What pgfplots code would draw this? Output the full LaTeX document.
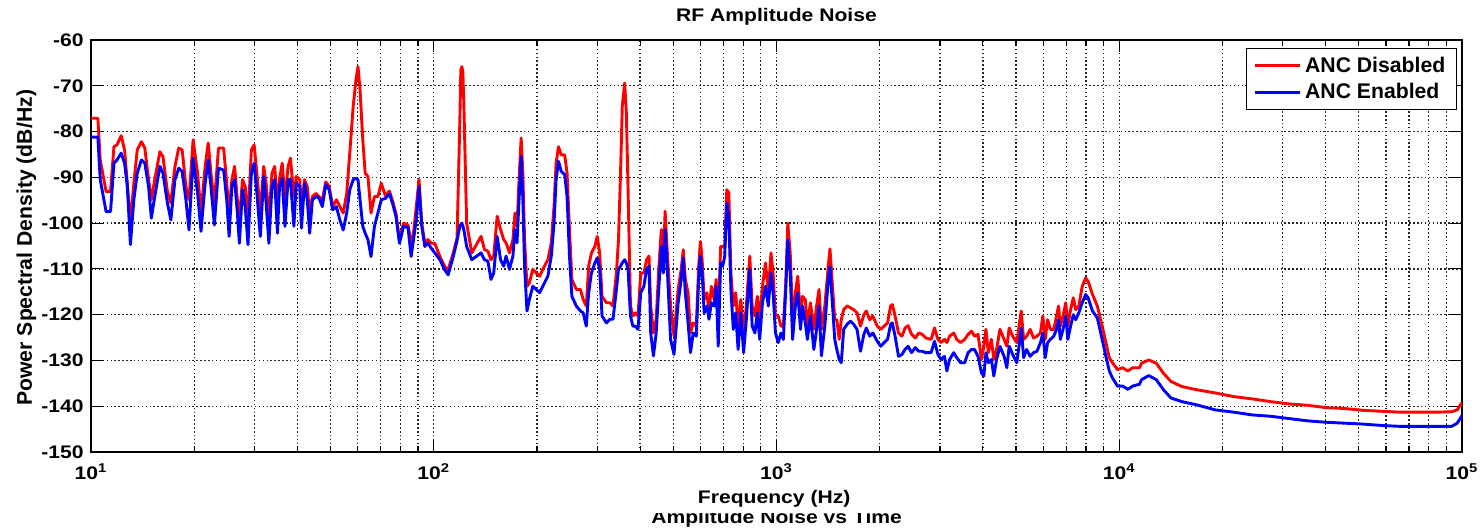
\documentclass[border=0pt]{standalone}
\usepackage{fontspec}
\setmainfont{Liberation Sans}[FakeStretch=1.16]
\newfontfamily\legfont{Liberation Sans}
\usepackage{pgfplots}
\pgfplotsset{compat=1.18}
\usepackage{pgfplotstable}

% columns: lf = log10(frequency in Hz), r = ANC Disabled (dB/Hz), b = ANC Enabled (dB/Hz)
\pgfplotstableread{
lf r b
1.000 -77.1 -81.2
1.020 -77.1 -81.2
1.027 -86.2 -90.5
1.044 -93.1 -97.5
1.057 -93.1 -97.5
1.067 -83.3 -86.9
1.076 -82.9 -86.2
1.088 -80.9 -84.7
1.098 -84.0 -86.9
1.106 -91.3 -92.0
1.115 -100.0 -104.7
1.125 -91.3 -94.9
1.135 -84.0 -89.1
1.147 -82.2 -86.2
1.157 -83.6 -86.9
1.168 -90.5 -92.0
1.176 -94.9 -98.9
1.186 -90.5 -94.2
1.201 -84.4 -87.6
1.210 -85.5 -89.1
1.223 -93.1 -95.6
1.233 -95.6 -99.3
1.245 -87.6 -90.5
1.256 -83.6 -88.0
1.266 -84.0 -88.7
1.277 -92.0 -94.9
1.286 -94.9 -101.5
1.298 -81.8 -85.8
1.311 -89.1 -93.5
1.321 -97.8 -101.8
1.333 -87.6 -91.3
1.342 -82.5 -86.2
1.350 -89.1 -92.0
1.360 -95.6 -100.4
1.372 -83.6 -88.0
1.387 -83.6 -88.4
1.396 -91.3 -94.9
1.403 -97.8 -102.9
1.411 -90.5 -92.0
1.419 -87.6 -90.5
1.427 -94.9 -97.8
1.433 -99.3 -104.4
1.442 -90.5 -92.7
1.450 -92.0 -96.4
1.458 -99.3 -104.7
1.468 -84.0 -89.1
1.476 -82.9 -86.9
1.484 -89.1 -93.5
1.494 -97.8 -102.9
1.504 -87.6 -89.8
1.511 -91.3 -95.6
1.519 -99.3 -104.4
1.528 -89.1 -92.0
1.536 -87.6 -90.5
1.544 -96.4 -102.2
1.550 -90.5 -92.0
1.558 -86.9 -90.2
1.566 -94.9 -100.7
1.575 -87.6 -90.5
1.582 -85.8 -90.5
1.592 -94.2 -100.7
1.599 -89.8 -91.3
1.609 -90.5 -92.0
1.614 -96.4 -101.1
1.623 -90.5 -91.3
1.631 -92.0 -94.9
1.638 -97.8 -102.2
1.646 -94.2 -94.9
1.656 -93.5 -94.2
1.665 -94.2 -94.5
1.675 -94.9 -96.4
1.685 -91.0 -91.6
1.695 -92.0 -92.7
1.705 -96.4 -97.1
1.716 -94.9 -96.4
1.726 -96.4 -99.3
1.736 -97.8 -101.5
1.746 -93.5 -97.8
1.755 -84.7 -92.7
1.765 -74.5 -90.5
1.773 -68.7 -90.2
1.779 -65.8 -90.5
1.785 -70.9 -94.9
1.793 -81.8 -100.7
1.800 -89.1 -102.2
1.808 -89.8 -103.6
1.817 -97.8 -107.3
1.827 -94.2 -100.7
1.837 -94.2 -97.8
1.847 -91.3 -94.9
1.859 -94.0 -94.6
1.871 -93.0 -93.6
1.881 -95.4 -96.0
1.890 -98.0 -98.6
1.900 -103.6 -104.4
1.912 -100.0 -100.7
1.925 -100.4 -101.0
1.934 -104.4 -107.3
1.941 -102.2 -103.6
1.949 -96.4 -99.3
1.957 -90.5 -92.0
1.965 -100.0 -100.7
1.974 -104.4 -105.1
1.983 -103.6 -104.4
1.993 -104.4 -105.5
2.003 -104.4 -106.5
2.018 -107.3 -108.0
2.032 -109.5 -110.2
2.042 -110.2 -111.3
2.057 -106.5 -107.3
2.068 -103.2 -103.8
2.076 -78.2 -100.7
2.079 -66.5 -100.3
2.082 -65.8 -100.0
2.085 -67.0 -100.6
2.088 -74.5 -101.5
2.096 -100.0 -105.1
2.111 -106.5 -108.0
2.138 -102.9 -106.5
2.148 -105.8 -108.0
2.158 -106.1 -108.3
2.167 -108.0 -112.3
2.175 -107.2 -110.9
2.185 -98.5 -102.9
2.195 -101.4 -108.0
2.204 -103.6 -109.4
2.211 -104.3 -107.2
2.221 -106.5 -110.1
2.231 -103.6 -107.2
2.237 -97.8 -101.4
2.243 -100.7 -104.3
2.248 -92.0 -96.3
2.255 -81.4 -85.4
2.260 -89.1 -94.9
2.265 -103.6 -109.4
2.272 -113.8 -119.2
2.279 -113.1 -116.7
2.289 -110.1 -113.8
2.299 -110.9 -114.5
2.309 -111.6 -115.2
2.318 -110.1 -113.8
2.333 -108.0 -111.6
2.343 -104.3 -107.2
2.351 -96.3 -100.0
2.357 -86.9 -90.5
2.364 -83.3 -86.5
2.372 -85.1 -88.7
2.382 -85.1 -89.4
2.389 -89.1 -94.2
2.396 -101.4 -107.2
2.403 -112.3 -116.0
2.416 -114.5 -118.1
2.428 -114.5 -119.2
2.436 -116.7 -119.6
2.445 -118.1 -122.5
2.452 -109.4 -115.2
2.460 -106.5 -110.9
2.470 -105.1 -108.7
2.477 -102.9 -107.6
2.484 -106.5 -110.1
2.491 -116.0 -120.3
2.504 -117.4 -121.8
2.514 -117.4 -121.0
2.523 -118.1 -121.0
2.533 -110.9 -114.5
2.539 -103.6 -110.1
2.545 -89.1 -109.4
2.550 -74.5 -108.7
2.557 -69.4 -108.0
2.562 -76.0 -108.7
2.567 -92.7 -110.1
2.574 -118.1 -120.3
2.581 -120.3 -122.5
2.588 -119.6 -122.5
2.596 -120.3 -123.2
2.604 -110.9 -115.2
2.613 -110.9 -113.8
2.621 -108.0 -110.1
2.628 -107.2 -109.4
2.633 -118.1 -124.0
2.641 -124.0 -129.0
2.649 -121.0 -124.0
2.657 -109.4 -113.8
2.664 -101.4 -105.1
2.670 -109.4 -110.9
2.675 -97.4 -101.4
2.682 -107.2 -110.9
2.691 -118.1 -125.4
2.701 -124.7 -128.7
2.713 -114.5 -117.4
2.722 -110.1 -112.3
2.728 -105.8 -107.6
2.734 -112.3 -115.2
2.742 -115.2 -121.8
2.749 -124.0 -128.3
2.757 -121.8 -124.0
2.766 -122.5 -124.7
2.773 -109.4 -112.3
2.778 -104.0 -107.2
2.783 -108.0 -110.9
2.789 -116.7 -119.6
2.797 -115.2 -118.1
2.803 -119.6 -121.0
2.810 -113.8 -117.4
2.818 -116.7 -118.1
2.824 -112.3 -113.8
2.830 -121.0 -126.9
2.837 -105.1 -108.7
2.843 -105.1 -109.4
2.849 -105.1 -107.2
2.855 -92.7 -95.6
2.861 -93.4 -99.2
2.867 -110.9 -114.5
2.874 -118.1 -123.2
2.881 -115.2 -119.6
2.888 -122.5 -127.6
2.896 -116.7 -119.6
2.904 -124.0 -128.3
2.912 -118.1 -121.0
2.922 -107.2 -110.1
2.929 -118.1 -122.5
2.937 -120.3 -124.0
2.944 -116.0 -119.6
2.951 -121.0 -125.4
2.959 -113.8 -117.4
2.968 -108.7 -113.8
2.976 -115.2 -118.1
2.984 -106.5 -110.9
2.990 -110.9 -115.2
2.997 -120.3 -124.0
3.005 -120.3 -126.1
3.013 -122.5 -124.0
3.020 -122.5 -125.4
3.027 -113.1 -114.5
3.033 -100.0 -103.6
3.040 -106.5 -110.9
3.047 -121.0 -125.4
3.055 -115.2 -118.1
3.062 -111.6 -115.2
3.070 -120.3 -123.2
3.076 -116.0 -118.1
3.084 -116.7 -121.8
3.090 -122.5 -125.4
3.099 -117.4 -120.3
3.109 -123.2 -127.6
3.117 -118.1 -123.2
3.124 -114.5 -118.1
3.131 -123.2 -129.0
3.141 -118.1 -122.5
3.151 -109.4 -112.3
3.156 -105.6 -109.5
3.170 -121.1 -125.4
3.176 -121.1 -127.6
3.183 -125.4 -129.8
3.189 -121.1 -130.5
3.196 -118.9 -123.2
3.206 -118.1 -122.1
3.216 -118.5 -121.4
3.225 -118.9 -122.1
3.235 -119.6 -123.2
3.245 -122.5 -128.0
3.255 -120.0 -124.3
3.262 -119.2 -122.9
3.272 -121.1 -124.7
3.281 -120.3 -124.0
3.294 -122.5 -125.8
3.304 -123.2 -126.9
3.314 -122.5 -126.1
3.324 -121.8 -125.4
3.333 -118.1 -122.1
3.338 -117.8 -121.8
3.346 -120.3 -124.7
3.356 -124.0 -129.1
3.366 -124.7 -128.7
3.375 -122.9 -127.6
3.384 -122.4 -126.9
3.394 -124.3 -128.3
3.405 -125.1 -127.2
3.415 -124.0 -128.0
3.425 -124.3 -128.0
3.436 -125.1 -128.3
3.451 -125.4 -128.3
3.461 -122.9 -125.8
3.471 -125.4 -128.7
3.480 -126.1 -129.8
3.490 -125.4 -129.1
3.497 -126.1 -132.3
3.505 -124.7 -129.8
3.517 -124.0 -128.3
3.526 -125.4 -129.4
3.537 -126.1 -130.5
3.549 -125.4 -130.5
3.559 -124.3 -128.3
3.569 -123.6 -127.6
3.578 -124.7 -127.6
3.588 -124.3 -129.1
3.598 -129.8 -132.7
3.605 -126.9 -133.4
3.611 -123.2 -128.3
3.618 -128.3 -130.5
3.627 -125.4 -129.8
3.634 -129.8 -133.4
3.642 -127.6 -129.8
3.652 -123.2 -126.9
3.664 -125.4 -129.1
3.672 -126.9 -131.6
3.679 -122.9 -126.9
3.689 -124.7 -128.7
3.701 -126.1 -130.5
3.709 -121.8 -126.1
3.714 -119.2 -122.9
3.721 -125.4 -129.4
3.730 -124.7 -127.6
3.740 -123.2 -129.1
3.750 -125.1 -128.3
3.760 -124.7 -128.0
3.770 -124.0 -126.1
3.777 -120.3 -124.0
3.784 -125.4 -129.4
3.791 -121.1 -126.1
3.799 -123.2 -125.4
3.809 -123.2 -124.7
3.817 -120.3 -123.2
3.823 -118.1 -121.1
3.828 -122.5 -125.4
3.836 -120.3 -123.2
3.844 -117.4 -120.3
3.850 -122.5 -125.4
3.858 -118.9 -122.5
3.866 -116.3 -120.0
3.873 -118.9 -121.1
3.882 -118.1 -119.6
3.892 -113.8 -117.4
3.902 -112.0 -115.6
3.909 -112.7 -116.3
3.922 -115.6 -119.2
3.936 -118.1 -120.7
3.948 -121.8 -124.7
3.961 -126.1 -129.1
3.971 -129.4 -132.3
3.980 -130.5 -133.8
3.995 -132.0 -135.6
4.010 -131.6 -135.6
4.025 -132.3 -136.3
4.039 -131.6 -135.6
4.059 -131.6 -135.2
4.065 -130.6 -134.2
4.086 -129.9 -133.3
4.108 -130.6 -134.2
4.129 -132.8 -136.4
4.151 -134.6 -138.2
4.183 -135.7 -139.0
4.226 -136.4 -139.7
4.280 -137.1 -140.8
4.334 -137.9 -141.3
4.388 -138.4 -141.9
4.442 -139.0 -142.2
4.496 -139.5 -142.7
4.550 -139.8 -143.2
4.603 -140.3 -143.5
4.657 -140.5 -143.7
4.711 -140.9 -143.9
4.765 -141.1 -144.2
4.819 -141.3 -144.4
4.873 -141.3 -144.4
4.927 -141.3 -144.4
4.970 -141.2 -144.4
4.986 -140.8 -143.7
4.997 -139.5 -142.4
5.000 -139.3 -142.0
}\psd

\begin{document}
\begin{tikzpicture}
\begin{axis}[
  at={(0pt,0pt)}, anchor=south west,
  scale only axis, width=685.5pt, height=206pt,
  xmode=log, log basis x=10,
  xmin=10, xmax=100000, ymin=-150, ymax=-60,
  xtick={10,100,1000,10000,100000},
  xticklabels={10\textsuperscript{1},10\textsuperscript{2},10\textsuperscript{3},10\textsuperscript{4},10\textsuperscript{5}},
  minor xtick={20,30,40,50,60,70,80,90,200,300,400,500,600,700,800,900,2000,3000,4000,5000,6000,7000,8000,9000,20000,30000,40000,50000,60000,70000,80000,90000},
  ytick={-150,-140,-130,-120,-110,-100,-90,-80,-70,-60},
  yticklabels={-150,-140,-130,-120,-110,-100,-90,-80,-70,-60},
  tick label style={font=\bfseries\fontsize{9.1}{11}\selectfont, text=black},
  xticklabel style={inner sep=0pt, anchor=north, yshift=-5.5pt},
  yticklabel style={inner sep=0pt, anchor=east, xshift=-3.5pt},
  tick align=inside, major tick length=6pt, minor tick length=3pt,
  tick style={black, line width=0.6pt},
  axis line style={black, line width=0.75pt},
  xmajorgrids=true, xminorgrids=true, ymajorgrids=true,
  major grid style={black!85, line width=0.65pt, dash pattern=on 0.75pt off 1.2pt},
  minor grid style={black!85, line width=0.65pt, dash pattern=on 0.75pt off 1.2pt},
  legend style={at={(1,1)}, anchor=north east, xshift=-2.5pt, yshift=-4pt,
    draw=black, line width=0.7pt, fill=white,
    font=\legfont\bfseries\fontsize{10.6}{12}\selectfont,
    inner xsep=3.5pt, inner ysep=2pt, row sep=0pt,
    nodes={inner sep=2pt},
    cells={anchor=west}},
  legend image code/.code={\draw[#1] (0pt,0pt) -- (22.5pt,0pt);},
]
\addplot[red, line width=1.45pt, line join=round] table[x expr={10^\thisrow{lf}}, y=r] {\psd};
\addplot[blue, line width=1.45pt, line join=round] table[x expr={10^\thisrow{lf}}, y=b] {\psd};
\legend{ANC Disabled, ANC Enabled}
\end{axis}
\node[anchor=base, font=\bfseries\fontsize{9.1}{11}\selectfont] at (342.75pt,215.15pt) {RF Amplitude Noise};
\node[anchor=base, font=\bfseries\fontsize{9.1}{11}\selectfont] at (341.6pt,-25.7pt) {Frequency (Hz)};
\node[rotate=90, anchor=base west, inner sep=0pt, font=\legfont\bfseries\fontsize{10.6}{12}\selectfont] at (-29.6pt,23pt) {Power Spectral Density (dB/Hz)};
\begin{scope}
\clip (100pt,-45pt) rectangle (600pt,-30.6pt);
\node[anchor=base, font=\bfseries\fontsize{9.1}{11}\selectfont] at (342.8pt,-35.9pt) {Amplitude Noise vs Time};
\end{scope}
\pgfresetboundingbox
\useasboundingbox (-45.5pt,-39.5pt) rectangle (695.5pt,226pt);
\end{tikzpicture}
\end{document}
